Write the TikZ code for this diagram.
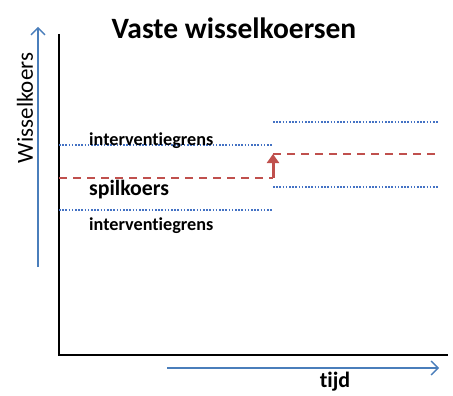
\documentclass[tikz,border=0pt]{standalone}
\usepackage{fontspec}
\setmainfont[Ligatures=NoCommon]{Carlito}
\usetikzlibrary{arrows.meta}
\definecolor{axblue}{RGB}{74,126,187}
\definecolor{dotblue}{RGB}{68,114,196}
\definecolor{spred}{RGB}{192,80,77}
\tikzset{
  axisline/.style={black, line width=1.6pt},
  bluearrow/.style={axblue, line width=1.6pt, -{Straight Barb[length=7pt,width=14pt,line width=1.4pt]}},
  bound/.style={dotblue, line width=1.8pt, dash pattern=on 1.6pt off 1.6pt},
  peg/.style={spred, line width=1.8pt, dash pattern=on 8pt off 6pt},
  shiftarrow/.style={spred, line width=3pt, -{Triangle[length=9pt,width=12pt]}},
  lbl/.style={inner sep=0pt, anchor=west, font=\bfseries\fontsize{18.2}{18}\selectfont}
}
\begin{document}
\begin{tikzpicture}[x=1pt,y=-1pt]
\useasboundingbox (0,0) rectangle (453,396);
% axes
\coordinate (O) at (59,355);
\coordinate (Ytop) at (59,34);
\coordinate (Xend) at (448,355);
\draw[axisline] (Ytop) -- (O) -- (Xend);
% blue arrows
\coordinate (ya) at (38,267);
\coordinate (yb) at (38,27);
\draw[bluearrow] (ya) -- (yb);
\coordinate (xa) at (167,368);
\coordinate (xb) at (439,368);
\draw[bluearrow] (xa) -- (xb);
% labels of axes
\node[font=\fontsize{23}{23}\selectfont, rotate=90, inner sep=0pt] (ylab) at (25,108) {Wisselkoers};
\node[font=\bfseries\fontsize{22}{22}\selectfont, inner sep=0pt] (xlab) at (335,382) {tijd};
\node[font=\bfseries\fontsize{29.5}{29}\selectfont, inner sep=0pt] (title) at (234,28) {Vaste wisselkoersen};
% left band
\coordinate (lu1) at (59,145); \coordinate (lu2) at (273,145);
\coordinate (lp1) at (59,178); \coordinate (lp2) at (273,178);
\coordinate (ll1) at (59,210); \coordinate (ll2) at (273,210);
\draw[bound] (lu1) -- (lu2);
\draw[peg] (lp1) -- (lp2);
\draw[bound] (ll1) -- (ll2);
% right band
\coordinate (ru1) at (273,122); \coordinate (ru2) at (439,122);
\coordinate (rp1) at (273,154); \coordinate (rp2) at (436,154);
\coordinate (rl1) at (273,187); \coordinate (rl2) at (439,187);
\draw[bound] (ru1) -- (ru2);
\draw[peg] (rp1) -- (rp2);
\draw[bound] (rl1) -- (rl2);
% shift arrow
\coordinate (sa) at (273,178);
\coordinate (sb) at (273,154);
\draw[shiftarrow] (sa) -- (sb);
% text labels
\node[lbl] (ig1) at (89,141) {interventiegrens};
\node[lbl, font=\bfseries\fontsize{21.8}{21}\selectfont] (spil) at (89,190) {spilkoers};
\node[lbl] (ig2) at (89,226) {interventiegrens};
\end{tikzpicture}
\end{document}
